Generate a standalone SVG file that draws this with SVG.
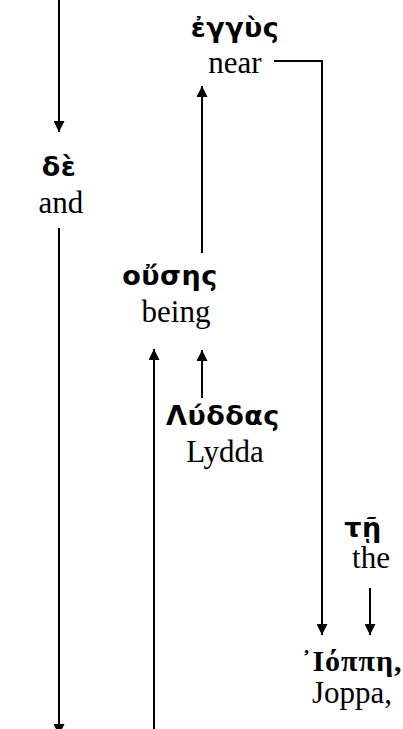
<svg xmlns="http://www.w3.org/2000/svg" width="403" height="729" viewBox="0 0 403 729">
<style>
.gk{font-family:"DejaVu Sans","Noto Sans",sans-serif;font-weight:bold;font-size:27px;letter-spacing:0.5px;text-anchor:middle;fill:#000}
.gs{font-family:"Liberation Serif","DejaVu Serif",serif;font-weight:bold;font-size:30px;letter-spacing:1px;text-anchor:middle;fill:#000}
.en{font-family:"Liberation Serif","Times New Roman",serif;font-size:31px;text-anchor:middle;fill:#000}
.ln{stroke:#000;stroke-width:2;fill:none}
</style>
<defs>
<marker id="ah" viewBox="0 0 10 10" refX="10" refY="5" markerWidth="6" markerHeight="5.5" markerUnits="strokeWidth" orient="auto">
<path d="M0,0 L10,5 L0,10 Z" fill="#000"/>
</marker>
</defs>
<g id="connectors">
<line class="ln" x1="59" y1="0" x2="59" y2="132" marker-end="url(#ah)"/>
<line class="ln" x1="59" y1="228" x2="59" y2="735" marker-end="url(#ah)"/>
<line class="ln" x1="154" y1="740" x2="154" y2="349" marker-end="url(#ah)"/>
<line class="ln" x1="202" y1="253" x2="202" y2="86" marker-end="url(#ah)"/>
<line class="ln" x1="202" y1="398" x2="202" y2="350" marker-end="url(#ah)"/>
<polyline class="ln" points="274,61 322,61 322,635" marker-end="url(#ah)"/>
<line class="ln" x1="370" y1="588" x2="370" y2="635" marker-end="url(#ah)"/>
</g>
<g id="node-eggys"><text class="gk" x="235" y="37">ἐγγὺς</text><text class="en" x="235" y="73">near</text></g>
<g id="node-de"><text class="gk" x="59" y="176">δὲ</text><text class="en" x="61" y="213">and</text></g>
<g id="node-ouses"><text class="gk" x="170" y="285">οὔσης</text><text class="en" x="176" y="322">being</text></g>
<g id="node-lyddas"><text class="gk" x="223" y="425">Λύδδας</text><text class="en" x="225" y="462">Lydda</text></g>
<g id="node-te"><text class="gk" x="363" y="537">τῇ</text><text class="en" x="371" y="568">the</text></g>
<g id="node-ioppe"><text class="gs" x="352" y="671">᾿Ιόππη,</text><text class="en" x="352" y="703">Joppa,</text></g>
</svg>
